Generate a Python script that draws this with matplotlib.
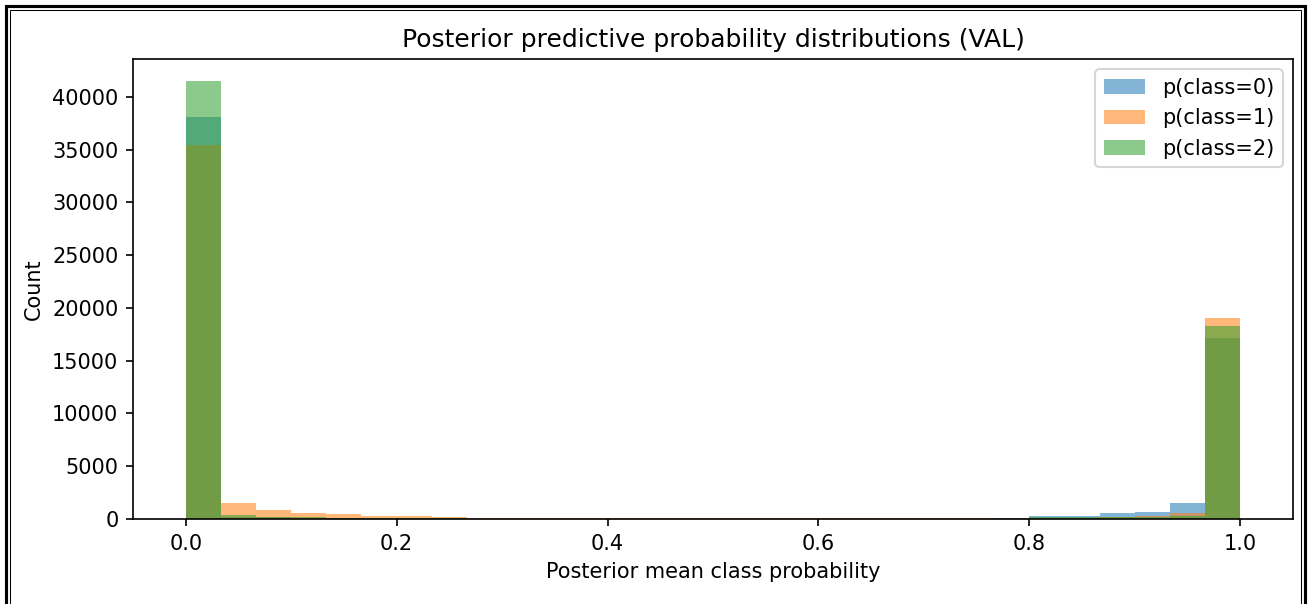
import numpy as np
import matplotlib
matplotlib.use("Agg")
import matplotlib.pyplot as plt
from matplotlib.patches import Rectangle

# 30 equal bins on [0, 1]; counts per bin for each class probability
n_bins = 30
labels = ["p(class=0)", "p(class=1)", "p(class=2)"]

counts_class0 = [38100, 220, 150, 120, 100, 80, 60, 50, 40, 30,
                 30, 30, 30, 30, 30, 30, 30, 30, 30, 30,
                 40, 40, 40, 50, 280, 280, 560, 700, 1550, 17100]
counts_class1 = [35450, 1540, 850, 600, 430, 300, 300, 150, 120, 100,
                 90, 80, 80, 70, 70, 70, 70, 70, 70, 70,
                 70, 80, 80, 90, 100, 120, 150, 330, 560, 19000]
counts_class2 = [41500, 380, 200, 150, 100, 80, 60, 50, 40, 30,
                 30, 30, 30, 30, 30, 30, 30, 30, 30, 30,
                 30, 30, 30, 40, 150, 150, 180, 200, 250, 18300]

edges = np.linspace(0, 1, n_bins + 1)
centers = (edges[:-1] + edges[1:]) / 2

W, H, DPI = 1309, 604, 150
fig = plt.figure(figsize=(W / DPI, H / DPI), dpi=DPI)
ax = fig.add_axes([133 / W, 1 - 519 / H, 1160 / W, 460 / H])

for counts, label in zip([counts_class0, counts_class1, counts_class2], labels):
    ax.hist(centers, bins=edges, weights=counts, alpha=0.55, label=label)

ax.set_xlim(-0.05, 1.05)
ax.set_title("Posterior predictive probability distributions (VAL)")
ax.set_xlabel("Posterior mean class probability")
ax.set_ylabel("Count")
ax.legend()

# outer frame around the whole figure
fig.patches.append(Rectangle((6 / W, -0.02), 1299 / W, 1 - 6 / H + 0.02,
                             transform=fig.transFigure, fill=False,
                             edgecolor="black", linewidth=1.5))
fig.patches.append(Rectangle((10 / W, -0.02), 1291 / W, 1 - 10 / H + 0.02,
                             transform=fig.transFigure, fill=False,
                             edgecolor="black", linewidth=0.5))

fig.savefig("out.png", dpi=DPI)
